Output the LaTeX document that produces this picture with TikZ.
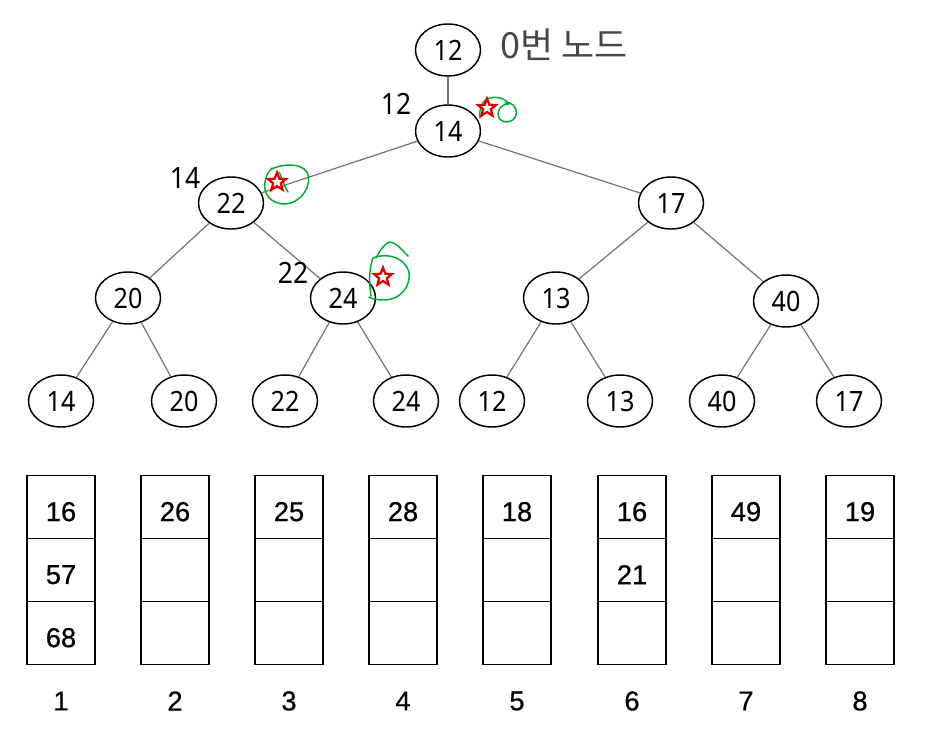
\documentclass[tikz,border=0pt]{standalone}
\usepackage{fontspec}
\setmainfont{Noto Sans}
\newfontfamily\treefont[FakeStretch=0.9]{Noto Sans}
\newfontfamily\boxfont[FakeBold=0.6]{Liberation Sans}
\newfontfamily\krfont{Noto Sans CJK KR}
\usetikzlibrary{shapes.geometric}

\begin{document}
\begin{tikzpicture}[x=0.75pt,y=-0.75pt,
  tnode/.style={draw, ellipse, line width=1.1pt, minimum width=48.75pt,
    minimum height=39pt, inner sep=0pt, font=\treefont\fontsize{21}{21}\selectfont},
  edge/.style={draw=black!55, line width=0.9pt},
  cell/.style={draw, line width=1.1pt, minimum width=51pt, minimum height=47.25pt,
    inner sep=0pt},
  celltext/.style={font=\boxfont\fontsize{20.5}{20.5}\selectfont, inner sep=0pt},
  idx/.style={font=\boxfont\fontsize{20.5}{20.5}\selectfont, inner sep=0pt},
  lbl/.style={font=\treefont\fontsize{22}{22}\selectfont, inner sep=0pt},
  mark star/.style={star, star points=5, star point ratio=2.3, draw=red!85!black,
    fill=white, line width=1.7pt, minimum size=14pt, inner sep=0pt},
  loop/.style={draw=green!60!black!80!cyan, line width=1.1pt, line cap=round, line join=round}
]
\useasboundingbox (0,0) rectangle (932,736);
\fill[white] (0,0) rectangle (932,736);

% tree nodes
\node[tnode] (r)  at (448,50)  {12};
\node[tnode] (a)  at (448,131) {14};
\node[tnode] (b1) at (231,203) {22};
\node[tnode] (b2) at (671,203) {17};
\node[tnode] (c1) at (128,298) {20};
\node[tnode] (c2) at (343,298) {24};
\node[tnode] (c3) at (556,298) {13};
\node[tnode] (c4) at (786,301) {40};
\node[tnode] (d1) at (61,401)  {14};
\node[tnode] (d2) at (184,401) {20};
\node[tnode] (d3) at (285,401) {22};
\node[tnode] (d4) at (406,401) {24};
\node[tnode] (d5) at (492,401) {12};
\node[tnode] (d6) at (620,401) {13};
\node[tnode] (d7) at (722,401) {40};
\node[tnode] (d8) at (849,401) {17};

% tree edges
\draw[edge] (r) -- (a);
\draw[edge] (a) -- (b1);
\draw[edge] (a) -- (b2);
\draw[edge] (b1) -- (c1);
\draw[edge] (b1) -- (c2);
\draw[edge] (b2) -- (c3);
\draw[edge] (b2) -- (c4);
\draw[edge] (c1) -- (d1);
\draw[edge] (c1) -- (d2);
\draw[edge] (c2) -- (d3);
\draw[edge] (c2) -- (d4);
\draw[edge] (c3) -- (d5);
\draw[edge] (c3) -- (d6);
\draw[edge] (c4) -- (d7);
\draw[edge] (c4) -- (d8);

% side labels
\node[font=\krfont\fontsize{27}{27}\selectfont, text=black!72, inner sep=0pt] (title) at (564,45) {0번 노드};
\node[lbl] (l1) at (396,104) {12};
\node[lbl] (l2) at (185,178) {14};
\node[lbl] (l3) at (293,273) {22};

% handwritten marks
\draw[loop] (480,118) .. controls (479,108) and (482,100) .. (490,98)
  .. controls (498,96) and (506,99) .. (509,104)
  .. controls (500,104) and (496,112) .. (499,118)
  .. controls (503,124) and (514,123) .. (516,115)
  .. controls (518,107) and (511,101) .. (505,103);
\node[mark star] (s1) at (487,108) {};

\draw[loop] (270,170) .. controls (280,164) and (300,162) .. (307,172)
  .. controls (313,184) and (302,203) .. (285,204)
  .. controls (270,204) and (263,193) .. (265,182)
  .. controls (266,176) and (268,172) .. (272,168);
\draw[loop] (279,172) .. controls (283,180) and (284,186) .. (288,192);
\node[mark star] (s2) at (277,182) {};

\draw[loop] (371,296) .. controls (369,282) and (369,268) .. (373,258)
  .. controls (388,252) and (405,258) .. (409,272)
  .. controls (411,288) and (399,300) .. (384,300)
  .. controls (377,300) and (372,299) .. (369,297);
\draw[loop] (376,258) .. controls (380,250) and (385,244) .. (389,242)
  .. controls (396,242) and (402,250) .. (408,256);
\node[mark star] (s3) at (383,277) {};

% bucket columns
\foreach \i/\x/\p/\q/\r in {1/61/16/57/68, 2/175/26//, 3/289/25//, 4/403/28//,
                            5/517/18//, 6/632/16/21/, 7/746/49//, 8/860/19//}{
  \node[cell] (t\i) at (\x,507) {};
  \node[cell] (m\i) at (\x,570) {};
  \node[cell] (b\i) at (\x,633) {};
  \node[celltext] at ([yshift=-3.5pt]t\i.center) {\p};
  \node[celltext] at ([yshift=-3.5pt]m\i.center) {\q};
  \node[celltext] at ([yshift=-3.5pt]b\i.center) {\r};
  \node[idx]  (n\i) at (\x,701) {\i};
}
\end{tikzpicture}
\end{document}
